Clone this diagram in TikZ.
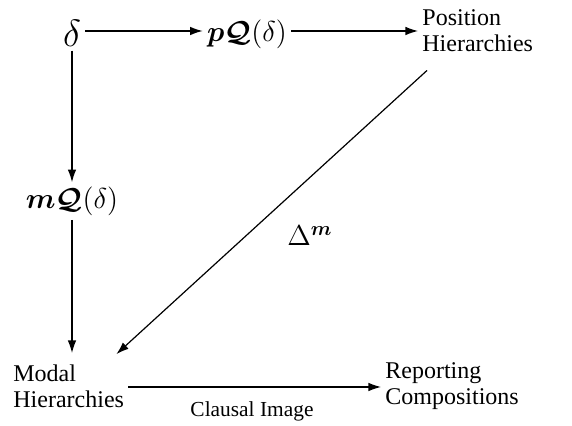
\RequirePackage{fix-cm}
\documentclass[tikz,border=0pt]{standalone}
\usepackage{amsmath,amssymb,bm}
\usepackage{fontspec}
\setmainfont{Liberation Serif}
\usetikzlibrary{arrows.meta,positioning,calc}
\tikzset{lbl/.style={align=left,font=\fontsize{12}{13}\selectfont,inner sep=2pt},mth/.style={font=\fontsize{14.4}{17}\selectfont,inner sep=2pt},arr/.style={-{Latex[length=2.2mm,width=1.5mm]},semithick}}
\begin{document}
\begin{tikzpicture}[x=0.5pt,y=-0.5pt]
\useasboundingbox (0,0) rectangle (572,426);
\node[mth,font=\fontsize{19}{22}\selectfont] (d) at (72,33) {$\delta$};
\node[mth] (pq) at (247,34) {$\bm{p}\bm{\mathcal{Q}}(\delta)$};
\node[lbl,anchor=west] (pos) at (418,31) {Position\\Hierarchies};
\node[mth] (mq) at (72,201) {$\bm{m}\bm{\mathcal{Q}}(\delta)$};
\node[lbl,anchor=west] (mod) at (9,386) {Modal\\Hierarchies};
\node[lbl,anchor=west] (rep) at (381,386) {Reporting\\Compositions};
\node[mth] (dm) at (310,236) {$\Delta^{\bm{m}}$};
\node[font=\fontsize{10.7}{12}\selectfont] (ci) at (252,411) {Clausal Image};
\draw[arr] (d.east|-0,31)--(pq.west|-0,31);\draw[arr] (pq.east|-0,31)--(pos.west|-0,31);
\draw[arr] (d.south)--(mq.north);\draw[arr] (mq.south)--(mq.south|-0,353);
\draw[arr] ($(pos.south west)+(9,14)$)--($(mod.north east)+(-12,-6)$);
\draw[arr] (mod.east|-0,387)--(rep.west|-0,387);
\end{tikzpicture}
\end{document}
